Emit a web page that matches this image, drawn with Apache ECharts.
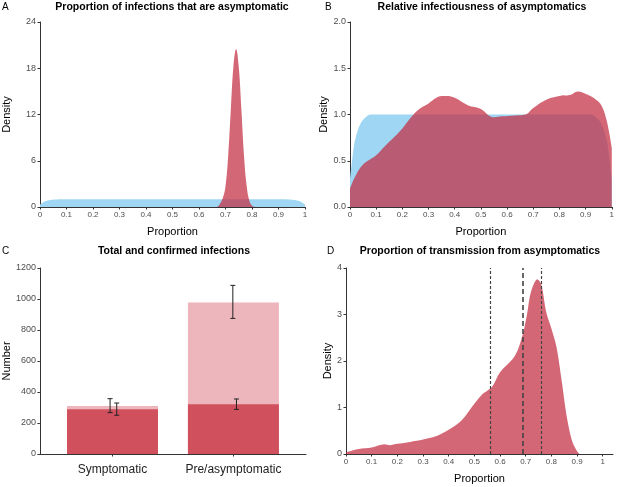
<!DOCTYPE html>
<html>
<head>
<meta charset="UTF-8">
<title>Asymptomatic infections</title>
<script src="https://cdn.jsdelivr.net/npm/echarts@6/dist/echarts.min.js"></script>
<style>
  html, body { margin: 0; padding: 0; background: #fff; }
  #main { width: 617px; height: 487px; }
</style>
</head>
<body>
<div id="main"></div>
<script type="text/javascript">
// tick positions
var propTicks = [0, 0.1, 0.2, 0.3, 0.4, 0.5, 0.6, 0.7, 0.8, 0.9, 1];
var categories = ['Symptomatic', 'Pre/asymptomatic'];
var catPos = [1, 2];

// A / B: uniform prior (blue)
var priorX = [0, 0.01, 0.02, 0.04, 0.06, 0.08, 0.5, 0.92, 0.94, 0.96, 0.98, 0.99, 1];
var priorY = [0.3, 0.55, 0.73, 0.9, 0.97, 1, 1, 1, 0.97, 0.9, 0.73, 0.55, 0.3];

// A: posterior proportion asymptomatic
var aPostX = [0.665, 0.675, 0.69, 0.70, 0.71, 0.72, 0.73, 0.74, 0.75, 0.76, 0.77, 0.78, 0.79, 0.80, 0.81];
var aPostY = [0, 0.2, 1.2, 2.7, 6.6, 12.6, 18.3, 20.5, 18.2, 12.6, 6.6, 2.7, 0.8, 0.15, 0];

// B: posterior relative infectiousness
var bPostX = [0, 0.02, 0.05, 0.1, 0.13, 0.17, 0.2, 0.23, 0.26, 0.3, 0.33, 0.35, 0.37, 0.4, 0.45, 0.5, 0.53, 0.55, 0.58, 0.63, 0.67, 0.7, 0.75, 0.8, 0.84, 0.87, 0.91, 0.94, 0.96, 0.98, 1];
var bPostY = [0.2, 0.33, 0.46, 0.56, 0.65, 0.76, 0.85, 0.96, 1.05, 1.12, 1.18, 1.2, 1.2, 1.18, 1.1, 1.06, 0.99, 0.97, 0.98, 0.99, 1.0, 1.07, 1.16, 1.2, 1.21, 1.25, 1.21, 1.16, 1.1, 0.94, 0.64];

// C: total and confirmed infections
var totalVals = [310, 977];
var confirmedVals = [288, 321];
var totalErrX = [0.98, 1.995];
var totalLow = [267, 875];
var totalHigh = [357, 1088];
var confErrX = [1.035, 2.025];
var confLow = [250, 288];
var confHigh = [329, 355];

// D: proportion of transmission from asymptomatics
var dX = [0, 0.05, 0.1, 0.15, 0.17, 0.2, 0.25, 0.3, 0.35, 0.4, 0.45, 0.5, 0.53, 0.55, 0.57, 0.6, 0.65, 0.67, 0.69, 0.705, 0.72, 0.745, 0.76, 0.78, 0.8, 0.82, 0.84, 0.86, 0.88, 0.9, 0.91];
var dY = [0.04, 0.11, 0.14, 0.21, 0.19, 0.22, 0.26, 0.31, 0.38, 0.52, 0.72, 1.08, 1.28, 1.36, 1.45, 1.76, 2.05, 2.25, 2.6, 3.0, 3.48, 3.76, 3.66, 3.05, 2.7, 2.3, 1.58, 0.8, 0.29, 0.06, 0];
var dLines = [0.557, 0.69, 0.76];

var font = 'Liberation Sans';
var axisCol = '#333333';
var labelCol = '#4d4d4d';
var red = 'rgba(195, 45, 65, 0.72)';
var blue = '#9ed6f3';

function pairs(xs, ys) {
  var out = [];
  for (var i = 0; i < xs.length; i++) out.push([xs[i], ys[i]]);
  return out;
}

function xProp(grid, max, name) {
  return {
    type: 'value', gridIndex: grid, min: 0, max: max,
    name: name, nameLocation: 'middle', nameGap: 19,
    nameTextStyle: { color: '#000', fontSize: 11, fontFamily: font },
    axisLine: { show: true, lineStyle: { color: axisCol, width: 1 } },
    axisTick: { show: true, length: 2.5, customValues: propTicks, lineStyle: { color: axisCol } },
    axisLabel: { customValues: propTicks, margin: 3.5, fontSize: 8, color: labelCol, fontFamily: font },
    splitLine: { show: false }
  };
}

function yVal(grid, max, interval, name, gap, digits) {
  return {
    type: 'value', gridIndex: grid, min: 0, max: max, interval: interval,
    name: name, nameLocation: 'middle', nameGap: gap,
    nameTextStyle: { color: '#000', fontSize: 11, fontFamily: font },
    axisLine: { show: true, lineStyle: { color: axisCol, width: 1 } },
    axisTick: { show: true, length: 2.5, lineStyle: { color: axisCol } },
    axisLabel: {
      margin: 4, fontSize: 9, color: labelCol, fontFamily: font,
      formatter: function (v) { return digits ? v.toFixed(digits) : String(v); }
    },
    splitLine: { show: false }
  };
}

function density(name, x, y, color, xi, z) {
  return {
    name: name, type: 'line', xAxisIndex: xi, yAxisIndex: xi,
    data: pairs(x, y), smooth: 0.4, showSymbol: false, z: z,
    lineStyle: { width: 0 }, areaStyle: { color: color, opacity: 1 },
    silent: true
  };
}

function errorBars(name, xs, lo, hi) {
  var d = [];
  for (var i = 0; i < xs.length; i++) d.push([xs[i], lo[i], hi[i]]);
  return {
    name: name, type: 'custom', xAxisIndex: 2, yAxisIndex: 2, z: 10, data: d,
    renderItem: function (params, api) {
      var x = api.value(0);
      var p1 = api.coord([x, api.value(1)]);
      var p2 = api.coord([x, api.value(2)]);
      var w = 2.5;
      var st = { stroke: '#222', lineWidth: 1 };
      return {
        type: 'group', children: [
          { type: 'line', shape: { x1: p1[0], y1: p1[1], x2: p2[0], y2: p2[1] }, style: st },
          { type: 'line', shape: { x1: p1[0] - w, y1: p1[1], x2: p1[0] + w, y2: p1[1] }, style: st },
          { type: 'line', shape: { x1: p2[0] - w, y1: p2[1], x2: p2[0] + w, y2: p2[1] }, style: st }
        ]
      };
    }
  };
}

function txt(s, x, y, size, bold, align) {
  return {
    type: 'text', x: x, y: y, silent: true,
    style: {
      text: s, fill: '#000', font: (bold ? 'bold ' : '') + size + 'px ' + font,
      textAlign: align || 'left', textVerticalAlign: 'middle'
    }
  };
}

var chart = echarts.init(document.getElementById('main'));

var xC = {
  type: 'value', gridIndex: 2, min: 0.4, max: 2.6,
  axisLine: { show: true, lineStyle: { color: axisCol, width: 1 } },
  axisTick: { show: true, length: 2.5, customValues: catPos, lineStyle: { color: axisCol } },
  axisLabel: {
    customValues: catPos, margin: 10, fontSize: 12, color: '#222', fontFamily: font,
    formatter: function (v) { return categories[Math.round(v) - 1]; }
  },
  splitLine: { show: false }
};

var cData1 = [], cData2 = [];
for (var i = 0; i < catPos.length; i++) {
  cData1.push([catPos[i], totalVals[i]]);
  cData2.push([catPos[i], confirmedVals[i]]);
}

var option = {
  animation: false,
  backgroundColor: '#fff',
  textStyle: { fontFamily: font },
  graphic: [
    txt('A', 2, 7, 10, false),
    txt('Proportion of infections that are asymptomatic', 172, 7, 10.5, true, 'center'),
    txt('B', 325, 7, 10, false),
    txt('Relative infectiousness of asymptomatics', 482, 7, 10.5, true, 'center'),
    txt('C', 2, 251, 10, false),
    txt('Total and confirmed infections', 174, 251, 10.5, true, 'center'),
    txt('D', 327, 251, 10, false),
    txt('Proportion of transmission from asymptomatics', 480, 251, 10.5, true, 'center')
  ],
  grid: [
    { left: 40, top: 22, width: 265, height: 185 },
    { left: 350, top: 22, width: 265, height: 185 },
    { left: 39, top: 268, width: 267, height: 186 },
    { left: 346, top: 268, width: 267, height: 186 }
  ],
  xAxis: [
    xProp(0, 1, 'Proportion'),
    xProp(1, 1, 'Proportion'),
    xC,
    xProp(3, 1.04, 'Proportion')
  ],
  yAxis: [
    yVal(0, 24, 6, 'Density', 28, 0),
    yVal(1, 2, 0.5, 'Density', 21, 1),
    yVal(2, 1200, 200, 'Number', 25, 0),
    yVal(3, 4, 1, 'Density', 12, 0)
  ],
  series: [
    density('prior A', priorX, priorY, blue, 0, 1),
    density('posterior A', aPostX, aPostY, red, 0, 2),
    density('prior B', priorX, priorY, blue, 1, 1),
    density('posterior B', bPostX, bPostY, red, 1, 2),
    {
      name: 'Total', type: 'bar', xAxisIndex: 2, yAxisIndex: 2,
      data: cData1, barWidth: 91, barGap: '-100%',
      itemStyle: { color: '#ecb6bc' }, z: 1
    },
    {
      name: 'Confirmed', type: 'bar', xAxisIndex: 2, yAxisIndex: 2,
      data: cData2, barWidth: 91, barGap: '-100%',
      itemStyle: { color: '#d0505e' }, z: 2
    },
    errorBars('Total error', totalErrX, totalLow, totalHigh),
    errorBars('Confirmed error', confErrX, confLow, confHigh),
    {
      name: 'transmission', type: 'line', xAxisIndex: 3, yAxisIndex: 3,
      data: pairs(dX, dY), smooth: 0.3, showSymbol: false,
      lineStyle: { width: 0 }, areaStyle: { color: red, opacity: 1 },
      markLine: {
        silent: true, symbol: 'none', label: { show: false },
        data: [
          { xAxis: dLines[0], lineStyle: { color: '#444', width: 1.2, type: [3, 2] } },
          { xAxis: dLines[1], lineStyle: { color: '#444', width: 1.6, type: [5, 3] } },
          { xAxis: dLines[2], lineStyle: { color: '#444', width: 1.2, type: [3, 2] } }
        ]
      }
    }
  ]
};

chart.setOption(option);
</script>
</body>
</html>
